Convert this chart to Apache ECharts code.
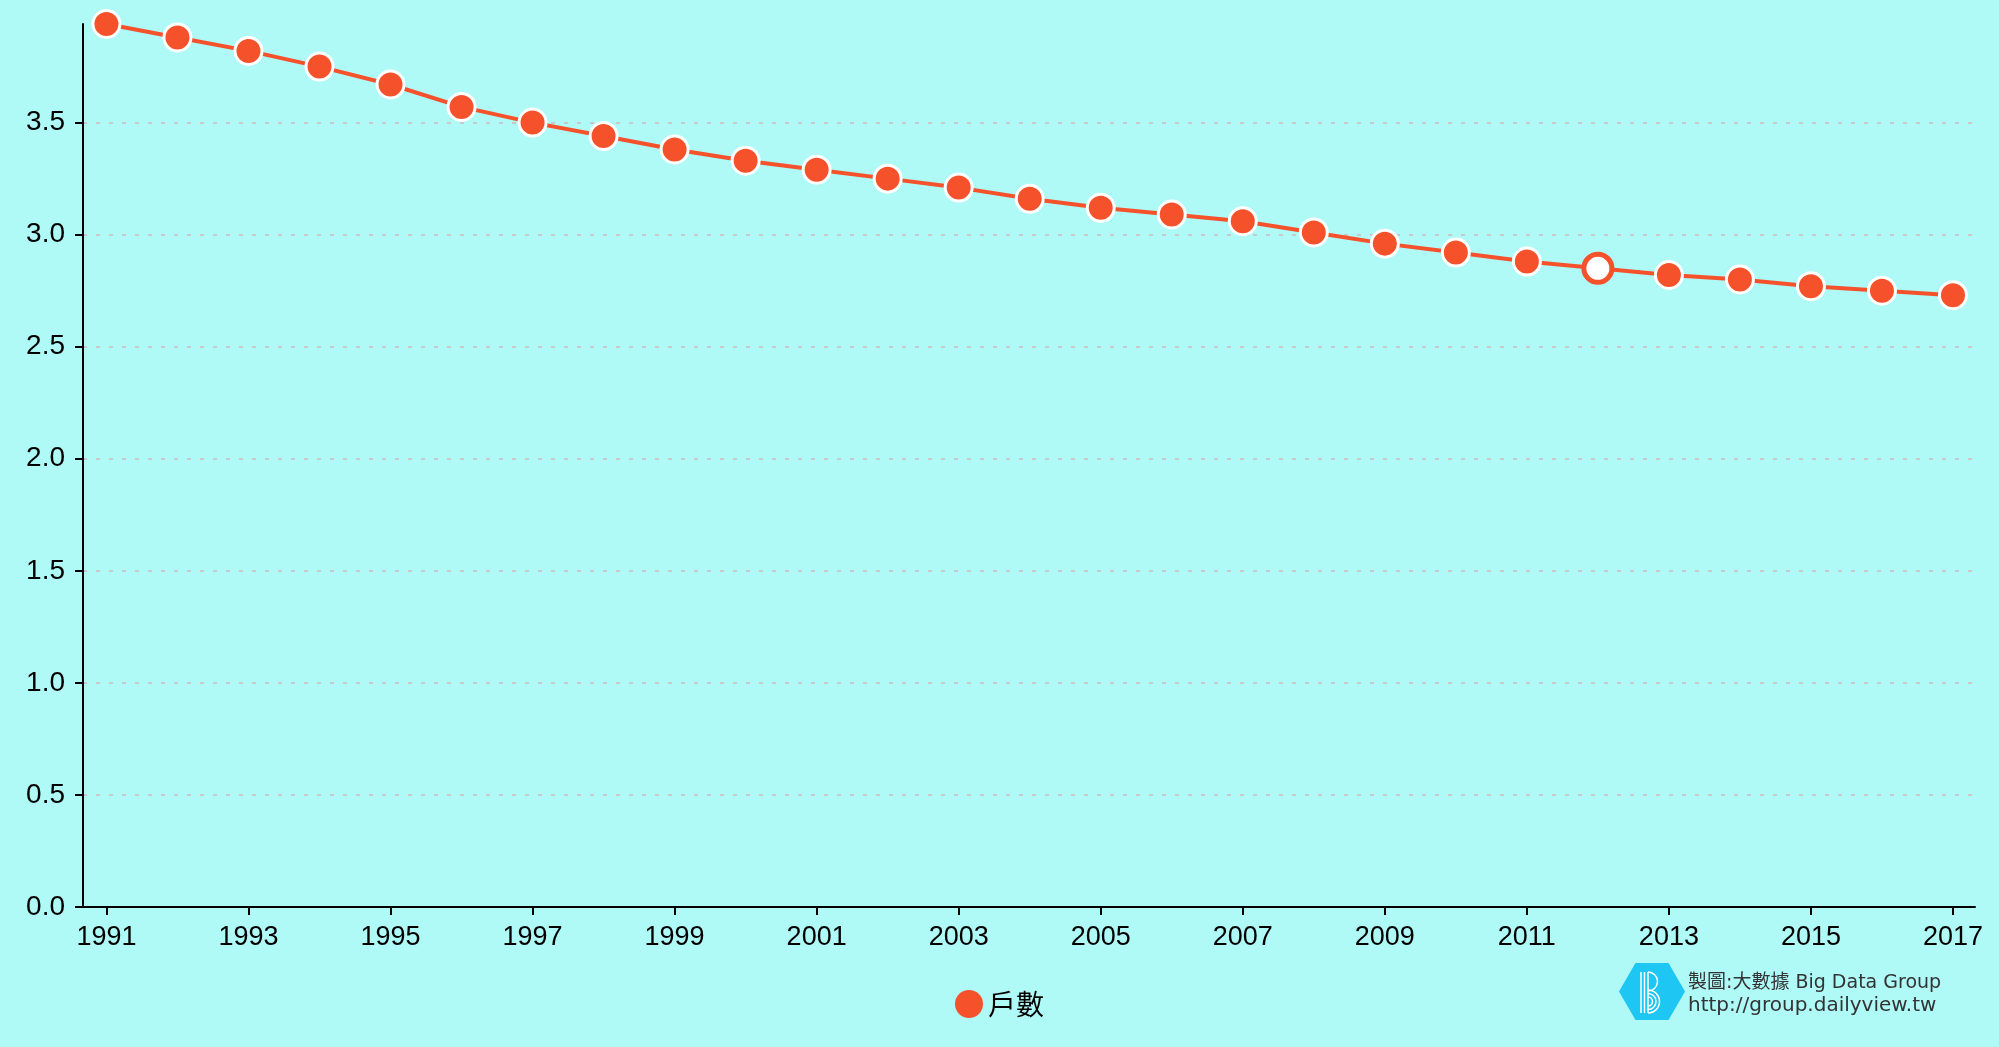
<!DOCTYPE html>
<html>
<head>
<meta charset="utf-8">
<script src="https://cdn.jsdelivr.net/npm/echarts@6/dist/echarts.min.js"></script>
<style>
html,body{margin:0;padding:0;background:#AFF9F7;}
#c{width:1999px;height:1047px;}
</style>
</head>
<body>
<div id="c"></div>
<script>
const years = [1991,1992,1993,1994,1995,1996,1997,1998,1999,2000,2001,2002,2003,2004,2005,2006,2007,2008,2009,2010,2011,2012,2013,2014,2015,2016,2017];
const values = [3.94,3.88,3.82,3.75,3.67,3.57,3.50,3.44,3.38,3.33,3.29,3.25,3.21,3.16,3.12,3.09,3.06,3.01,2.96,2.92,2.88,2.85,2.82,2.80,2.77,2.75,2.73];
const xTickLabels = [1991,1993,1995,1997,1999,2001,2003,2005,2007,2009,2011,2013,2015,2017];
const yTickLabels = [0,0.5,1,1.5,2,2.5,3,3.5];
const seriesName = '戶數';
const highlightYear = 2012;

const ORANGE = '#F5522C';
const chart = echarts.init(document.getElementById('c'), null, {renderer:'canvas'});

const data = years.map((y,i) => {
  const d = {value:[y, values[i]]};
  if (y === highlightYear) {
    d.symbolSize = 28;
    d.itemStyle = {color:'#ffffff', borderColor:ORANGE, borderWidth:5};
  }
  return d;
});

chart.setOption({
  backgroundColor:'#AFF9F7',
  animation:false,
  grid:{left:83, right:24, top:24, bottom:140, containLabel:false},
  legend:{
    data:[seriesName], left:'center', top:985, icon:'circle',
    itemWidth:28, itemHeight:28, itemGap:10,
    itemStyle:{borderWidth:0},
    textStyle:{fontSize:28, color:'#000', fontFamily:'"Noto Sans CJK TC", "Liberation Sans", sans-serif'}
  },
  xAxis:{
    type:'value', min:1990.67, max:2017.31,
    splitLine:{show:false},
    axisLine:{show:true, onZero:false, lineStyle:{color:'#000', width:2}},
    axisTick:{show:true, length:8, lineStyle:{color:'#000', width:2}, customValues:xTickLabels},
    axisLabel:{show:true, customValues:xTickLabels, margin:17, fontSize:27, color:'#000',
      fontFamily:'"Liberation Sans", Arial, sans-serif', formatter:v=>String(v)}
  },
  yAxis:{
    type:'value', min:0, max:3.94, interval:0.5,
    axisLine:{show:true, lineStyle:{color:'#000', width:2}},
    axisTick:{show:true, length:8, lineStyle:{color:'#000', width:2}, customValues:yTickLabels},
    axisLabel:{show:true, customValues:yTickLabels, margin:18, fontSize:28, color:'#000',
      fontFamily:'"Liberation Sans", Arial, sans-serif', formatter:v=>Number(v).toFixed(1)},
    splitLine:{show:true, showMinLine:false, showMaxLine:true,
      lineStyle:{color:'#c8c8c8', width:2, type:[4,9]}}
  },
  series:[{
    name:seriesName, type:'line', data:data,
    symbol:'circle', symbolSize:27, showAllSymbol:true,
    itemStyle:{color:ORANGE, borderColor:'#ffffff', borderWidth:3},
    lineStyle:{color:ORANGE, width:4},
    emphasis:{disabled:true}, z:3
  }],
  graphic:[
    {type:'polygon', silent:true, shape:{points:[[1685,991.5],[1668.5,1020],[1635.5,1020],[1619,991.5],[1635.5,963],[1668.5,963]]},
      style:{fill:'#1EC6F4'}},
    {type:'line', silent:true, shape:{x1:1641,y1:972,x2:1641,y2:1013}, style:{stroke:'#fff', lineWidth:1.5}},
    {type:'line', silent:true, shape:{x1:1644.5,y1:972,x2:1644.5,y2:1013}, style:{stroke:'#fff', lineWidth:1.5}},
    {type:'line', silent:true, shape:{x1:1648,y1:972,x2:1648,y2:1013}, style:{stroke:'#fff', lineWidth:1.5}},
    {type:'arc', silent:true, shape:{cx:1648, cy:981.5, r:9.5, startAngle:-Math.PI/2, endAngle:Math.PI/2}, style:{stroke:'#fff', fill:null, lineWidth:1.5}},
    {type:'arc', silent:true, shape:{cx:1648, cy:1001.5, r:11.5, startAngle:-Math.PI/2, endAngle:Math.PI/2}, style:{stroke:'#fff', fill:null, lineWidth:1.5}},
    {type:'arc', silent:true, shape:{cx:1648, cy:1001.5, r:8, startAngle:-Math.PI/2, endAngle:Math.PI/2}, style:{stroke:'#fff', fill:null, lineWidth:1.5}},
    {type:'arc', silent:true, shape:{cx:1648, cy:1001.5, r:4.5, startAngle:-Math.PI/2, endAngle:Math.PI/2}, style:{stroke:'#fff', fill:null, lineWidth:1.5}},
    {type:'text', silent:true, x:1688, y:983,
      style:{text:'製圖:大數據 Big Data Group', fill:'#333333', verticalAlign:'middle',
        font:'19px "DejaVu Sans", "Noto Sans CJK TC", sans-serif'}},
    {type:'text', silent:true, x:1688, y:1006,
      style:{text:'http://group.dailyview.tw', fill:'#333333', verticalAlign:'middle',
        font:'20px "DejaVu Sans", sans-serif'}}
  ]
});
</script>
</body>
</html>
